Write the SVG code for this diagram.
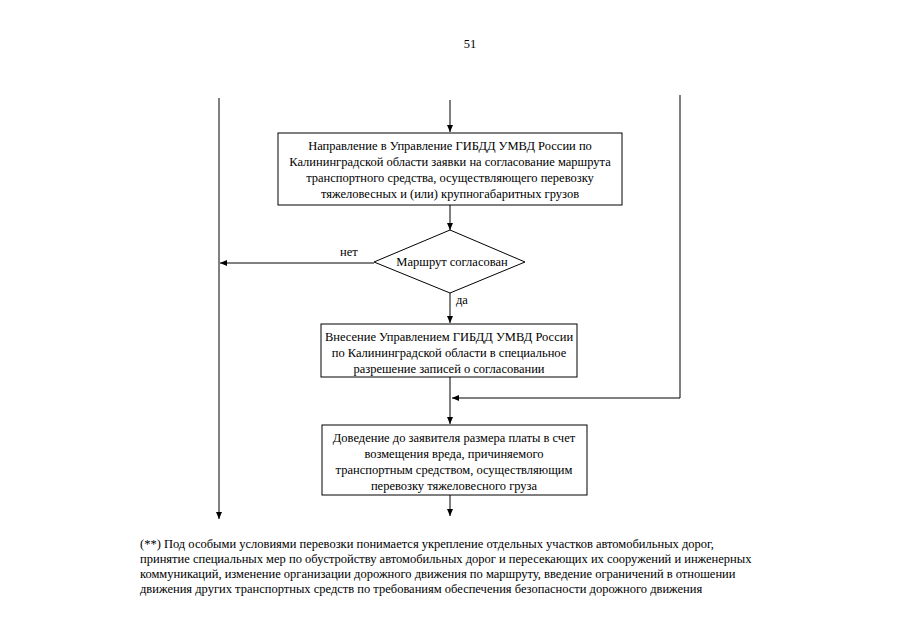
<svg xmlns="http://www.w3.org/2000/svg" width="905" height="640" viewBox="0 0 905 640">
<defs>
<marker id="ah" markerWidth="8" markerHeight="8" refX="7" refY="4" orient="auto" markerUnits="userSpaceOnUse">
<path d="M0,1 L7,4 L0,7 z" fill="#000"/>
</marker>
<style>
.t{font-family:"Liberation Serif","DejaVu Serif",serif;font-size:12.5px;fill:#000}
.m{text-anchor:middle}
.b{fill:#fff;stroke:#000;stroke-width:1}
.c{fill:none;stroke:#000;stroke-width:1}
</style>
</defs>
<rect width="905" height="640" fill="#fff"/>
<text class="t m" x="470" y="48" font-size="13">51</text>
<g id="connectors">
<line class="c" x1="450" y1="100" x2="450" y2="132" marker-end="url(#ah)"/>
<line class="c" x1="450" y1="205" x2="450" y2="230" marker-end="url(#ah)"/>
<line class="c" x1="374" y1="263" x2="220" y2="263" marker-end="url(#ah)"/>
<line class="c" x1="450" y1="293" x2="450" y2="323" marker-end="url(#ah)"/>
<line class="c" x1="450" y1="377" x2="450" y2="424" marker-end="url(#ah)"/>
<polyline class="c" points="680,95 680,398 452,398" marker-end="url(#ah)"/>
<line class="c" x1="219" y1="98" x2="219" y2="519" marker-end="url(#ah)"/>
<line class="c" x1="450" y1="495" x2="450" y2="516" marker-end="url(#ah)"/>
<text class="t" x="340" y="256">нет</text>
<text class="t" x="456" y="304">да</text>
</g>
<g id="n1">
<rect class="b" x="278" y="133" width="344" height="72"/>
<text class="t m" x="450" y="150">Направление в Управление ГИБДД УМВД России по</text>
<text class="t m" x="450" y="166">Калининградской области заявки на согласование маршрута</text>
<text class="t m" x="450" y="182">транспортного средства, осуществляющего перевозку</text>
<text class="t m" x="450" y="198">тяжеловесных и (или) крупногабаритных грузов</text>
</g>
<g id="n2">
<polygon class="b" points="450,230 525,262 450,293 374,262"/>
<text class="t m" x="452" y="266">Маршрут согласован</text>
</g>
<g id="n3">
<rect class="b" x="321" y="324" width="256" height="53"/>
<text class="t m" x="449" y="341">Внесение Управлением ГИБДД УМВД России</text>
<text class="t m" x="449" y="357">по Калининградской области в специальное</text>
<text class="t m" x="449" y="373">разрешение записей о согласовании</text>
</g>
<g id="n4">
<rect class="b" x="322" y="425" width="265" height="70"/>
<text class="t m" x="454" y="442">Доведение до заявителя размера платы в счет</text>
<text class="t m" x="454" y="458">возмещения вреда, причиняемого</text>
<text class="t m" x="454" y="474">транспортным средством, осуществляющим</text>
<text class="t m" x="454" y="490">перевозку тяжеловесного груза</text>
</g>
<g id="footnote">
<text class="t" x="140" y="548">(**) Под особыми условиями перевозки понимается укрепление отдельных участков автомобильных дорог,</text>
<text class="t" x="140" y="563">принятие специальных мер по обустройству автомобильных дорог и пересекающих их сооружений и инженерных</text>
<text class="t" x="140" y="578">коммуникаций, изменение организации дорожного движения по маршруту, введение ограничений в отношении</text>
<text class="t" x="140" y="593">движения других транспортных средств по требованиям обеспечения безопасности дорожного движения</text>
</g>
</svg>
